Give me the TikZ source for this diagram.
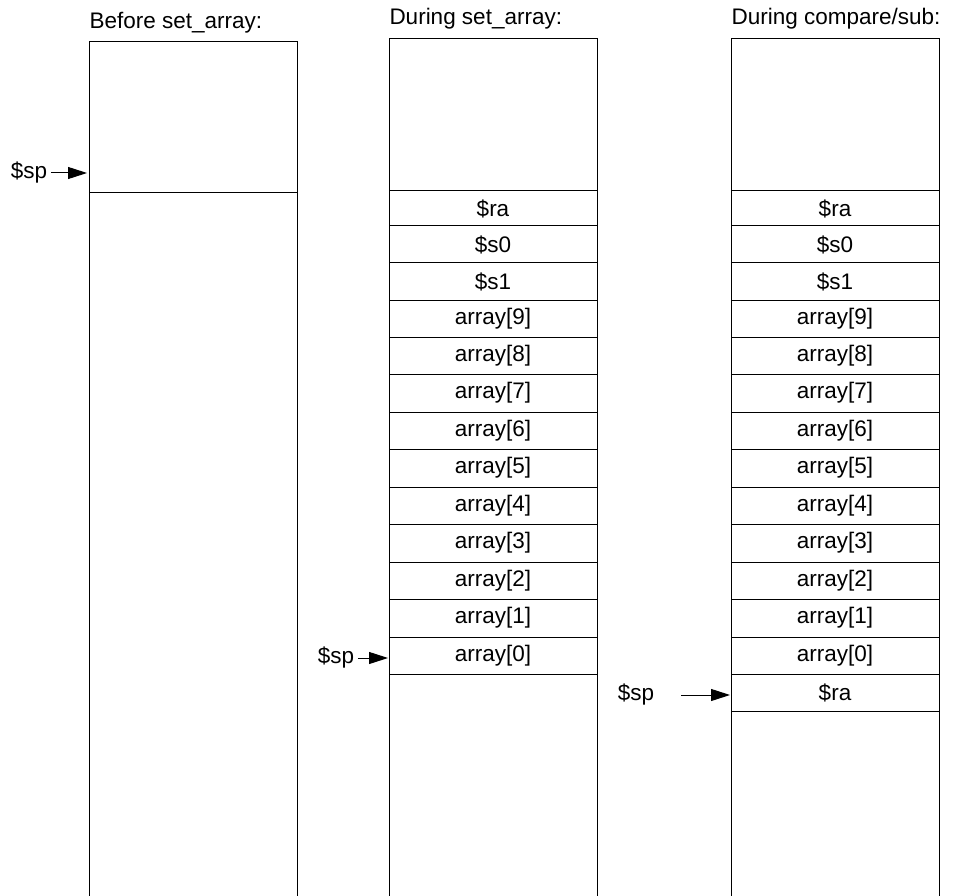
\documentclass[tikz,border=0pt]{standalone}
\usepackage{fontspec}
\setmainfont{Liberation Sans}
\usetikzlibrary{arrows.meta, positioning}

\tikzset{
  slot/.style={draw, rectangle, inner sep=0pt, outer sep=0pt, minimum width=208pt, anchor=north west},
  spptr/.style={-{Triangle[length=19pt, width=12pt]}},
  heading/.style={anchor=base west, inner sep=0pt}
}

\begin{document}
\begin{tikzpicture}[x=1pt, y=-1pt, line width=1pt, font=\fontsize{22.5}{27}\selectfont]
  \useasboundingbox (0,0) rectangle (956,896);

  % Headings
  \node[heading] (head-left) at (89,29) {Before set\_array:};
  \node[heading] (head-mid) at (389,25) {During set\_array:};
  \node[heading] (head-right) at (731,25) {During compare/sub:};

  % Stack before the call
  \node[slot, minimum height=151pt] (left-top) at (89,42) {};
  \draw (left-top.south west) -- (89,896);
  \draw (left-top.south east) -- (297,896);

  % Stack frames (same in both later columns)
  \foreach \cx/\c in {389/mid, 731/right} {
    \node[slot, minimum height=152pt] (\c-top) at (\cx,39) {};
    \foreach \i/\lab/\ya/\yb in {1/\$ra/191/226, 2/\$s0/226/263, 3/\$s1/263/300,
        4/array[9]/300/337, 5/array[8]/337/374, 6/array[7]/374/412,
        7/array[6]/412/449, 8/array[5]/449/487, 9/array[4]/487/524,
        10/array[3]/524/562, 11/array[2]/562/599, 12/array[1]/599/637,
        13/array[0]/637/674} {
      \node[slot, minimum height={(\yb-\ya)*1pt}] (\c-\i) at (\cx,\ya) {\lab};
    }
  }

  % Extra slot saved by compare/sub
  \node[slot, minimum height=37pt] (right-14) at (731,674) {\$ra};

  % Open ends of the stacks
  \draw (mid-13.south west) -- (389,896);
  \draw (mid-13.south east) -- (597,896);
  \draw (right-14.south west) -- (731,896);
  \draw (right-14.south east) -- (939,896);

  % Stack pointers
  \node (sp-left) at (29,173) {\$sp};
  \draw[spptr] (sp-left.east) -- ([xshift=-2pt]sp-left.east -| left-top.west);

  \node (sp-mid) at (336,658) {\$sp};
  \draw[spptr] (sp-mid.east) -- ([xshift=-1pt]sp-mid.east -| mid-13.west);

  \node (sp-right) at (636,695) {\$sp};
  \coordinate (sp-right-tail) at (681,695);
  \draw[spptr] (sp-right-tail) -- ([xshift=-1pt]sp-right-tail -| right-14.west);

\end{tikzpicture}
\end{document}
